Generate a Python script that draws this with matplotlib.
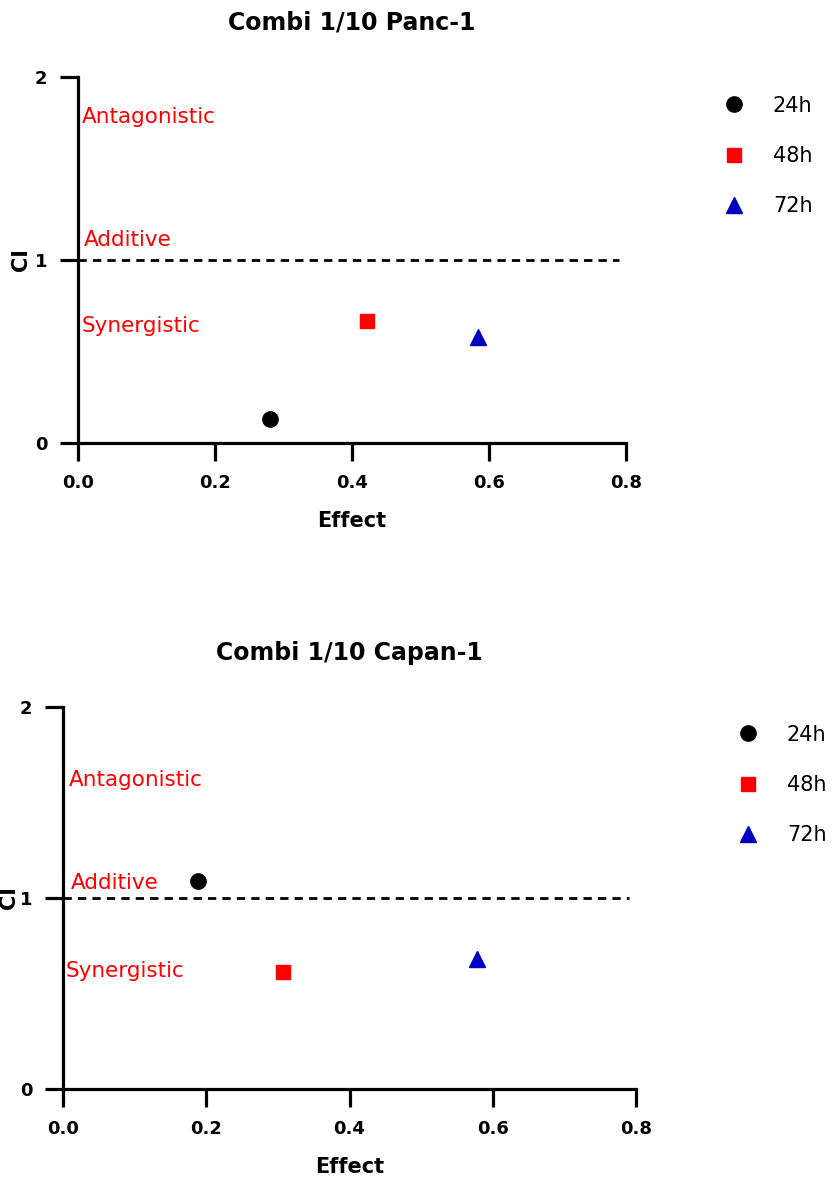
import matplotlib
matplotlib.use("Agg")
import matplotlib.pyplot as plt

plt.rcParams['font.family'] = ['DejaVu Sans']

titles = ["Combi 1/10 Panc-1", "Combi 1/10 Capan-1"]
series_labels = ["24h", "48h", "72h"]
panc_effect = [0.280, 0.422, 0.584]
panc_ci = [0.13, 0.667, 0.58]
capan_effect = [0.189, 0.307, 0.578]
capan_ci = [1.089, 0.613, 0.681]
region_labels = ["Antagonistic", "Additive", "Synergistic"]
panc_label_y = [1.78, 1.11, 0.64]
capan_label_y = [1.62, 1.08, 0.62]
xticks = [0.0, 0.2, 0.4, 0.6, 0.8]
yticks = [0, 1, 2]

markers = ['o', 's', '^']
colors = ['#000000', '#FF0000', '#0000C0']
msizes = [11, 10.5, 11]

W, H = 839, 1182
fig = plt.figure(figsize=(W / 100, H / 100), dpi=100)

panels = [
    dict(rect=[78 / W, 1 - 443 / H, (626 - 78) / W, (443 - 77) / H],
         x=panc_effect, y=panc_ci, ly=panc_label_y, lx=[0.006, 0.009, 0.006],
         title=titles[0], leg=(700 / W, 1 - 77 / H), ylpad=3),
    dict(rect=[63 / W, 1 - 1089 / H, (636 - 63) / W, (1089 - 707) / H],
         x=capan_effect, y=capan_ci, ly=capan_label_y, lx=[0.008, 0.011, 0.003],
         title=titles[1], leg=(714 / W, 1 - 706 / H), ylpad=1),
]

for p in panels:
    ax = fig.add_axes(p['rect'])
    ax.set_xlim(0, 0.8)
    ax.set_ylim(0, 2)
    for s in ['top', 'right']:
        ax.spines[s].set_visible(False)
    for s in ['left', 'bottom']:
        ax.spines[s].set_linewidth(2.3)
    ax.set_xticks(xticks)
    ax.set_xticklabels([f"{v:.1f}" for v in xticks])
    ax.set_yticks(yticks)
    ax.set_yticklabels([str(v) for v in yticks])
    ax.tick_params(direction='out', length=13, width=2.3, labelsize=13, pad=9)
    for lab in ax.get_xticklabels() + ax.get_yticklabels():
        lab.set_fontweight('bold')
    ax.plot([0, 0.79], [1, 1], linestyle=(0, (3, 2.2)), color='black', lw=2.0, clip_on=False)
    for i in range(3):
        ax.plot(p['x'][i], p['y'][i], linestyle='none', marker=markers[i],
                color=colors[i], markersize=msizes[i], label=series_labels[i], clip_on=False)
    for i in range(3):
        ax.text(p['lx'][i], p['ly'][i], region_labels[i], color='#FF0000',
                fontsize=15.5, va='center', ha='left')
    ax.set_xlabel("Effect", fontsize=15, fontweight='bold', labelpad=14)
    ax.set_ylabel("CI", fontsize=15, fontweight='bold', labelpad=p['ylpad'])
    ax.set_title(p['title'], fontsize=17, fontweight='bold', pad=34)
    ax.legend(loc='upper left', bbox_to_anchor=p['leg'], bbox_transform=fig.transFigure,
              frameon=False, fontsize=15, labelspacing=1.45, handletextpad=1.1,
              handlelength=1.5)

fig.savefig("out.png", dpi=100)
